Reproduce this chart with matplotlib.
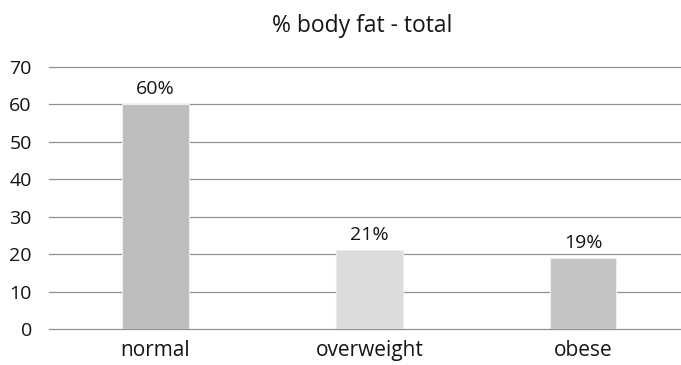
import matplotlib
matplotlib.use("Agg")
import matplotlib.pyplot as plt

categories = ["normal", "overweight", "obese"]
body_fat = [60, 21, 19]
bar_colors = ["#bcbdbf", "#dbdcde", "#c3c4c6"]
yticks = [0, 10, 20, 30, 40, 50, 60, 70]

plt.rcParams["font.family"] = ["Open Sans", "DejaVu Sans"]
fs = 14
text_color = "#141414"

W, H = 681, 365
fig = plt.figure(figsize=(W / 100, H / 100), dpi=100)
ax = fig.add_axes([48.5 / W, 1 - 329 / H, 1 - 48.5 / W, (329 - 67) / H])

x = list(range(len(categories)))
ax.bar(x, body_fat, width=0.31, color=bar_colors, edgecolor="#ededed",
       linewidth=0.8, zorder=3)
for xi, v in zip(x, body_fat):
    ax.annotate(f"{v}%", (xi, v), xytext=(0, 10), textcoords="offset pixels",
                ha="center", va="baseline", fontsize=fs, color=text_color)

# horizontal rules drawn unclipped so the 0 and 70 lines are full width
for t in yticks:
    ax.axhline(t, color="#909090", linewidth=0.9, zorder=1, clip_on=False)

ax.set_xlim(-0.5, 2.457)
ax.set_ylim(0, 70)
ax.set_yticks(yticks)
ax.set_yticklabels([str(t) for t in yticks], fontsize=fs, color=text_color)
ax.set_xticks(x)
ax.set_xticklabels(categories, fontsize=15, color=text_color)
ax.tick_params(axis="both", length=0)
ax.tick_params(axis="y", pad=12)
ax.tick_params(axis="x", pad=8)
for s in ax.spines.values():
    s.set_visible(False)

fig.text(362.5 / W, 1 - 31.7 / H, "% body fat - total", ha="center",
         va="baseline", fontsize=16.5, color=text_color)

fig.savefig("out.png", dpi=100)
